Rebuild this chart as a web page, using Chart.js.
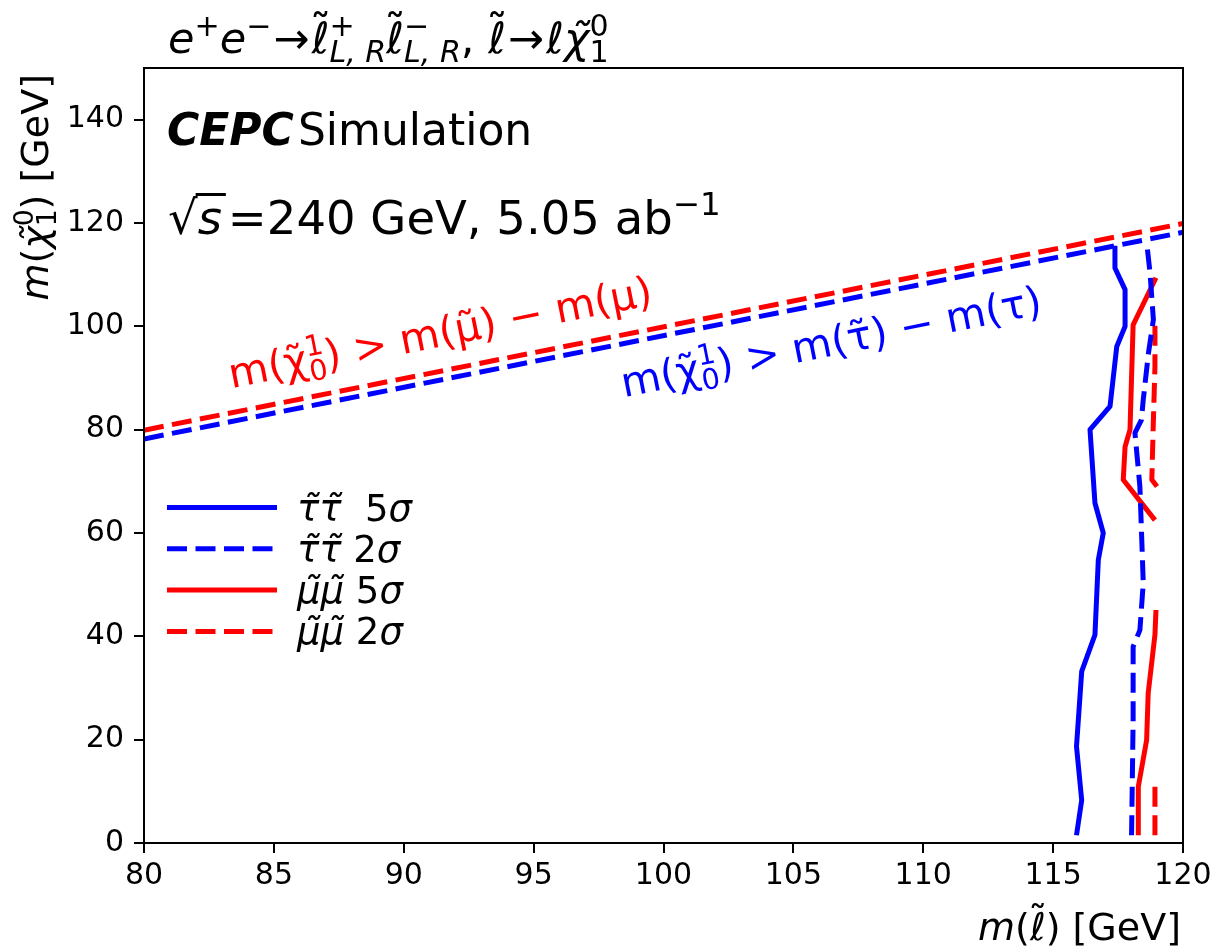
<!DOCTYPE html>
<html>
<head>
<meta charset="utf-8">
<script src="https://cdn.jsdelivr.net/npm/chart.js@4"></script>
<style>
  body { margin: 0; background: #fff; }
  canvas { display: block; }
</style>
</head>
<body>
<canvas id="chart" width="1217" height="950"></canvas>
<script>
// kinematic limit lines
const limitX = [80, 120];
const tauLimitY = [78.2, 118.2];
const muLimitY = [79.9, 119.9];

// stau 5 sigma contour
const tau5X = [115.9, 116.1, 115.9, 116.1, 116.61, 116.74, 116.93, 116.61, 116.42, 117.19, 117.45, 117.77, 117.77, 117.38, 117.38];
const tau5Y = [1.5, 8.3, 18.7, 33.2, 40.3, 54.8, 60, 65.8, 80, 84.5, 96.1, 100, 107.1, 111.3, 115.6];

// stau 2 sigma contour
const tau2X = [118.02, 118.08, 118.08, 118.34, 118.47, 118.4, 118.34, 118.15, 118.4, 118.47, 118.67, 118.86, 118.73, 118.6];
const tau2Y = [1.5, 23.8, 38, 41.2, 50.3, 60.6, 69, 79.4, 81.9, 85.8, 94.8, 101.3, 110.4, 116.3];

// smuon 5 sigma contour (two pieces)
const mu5aX = [118.28, 118.28, 118.6, 118.66, 118.92, 118.96];
const mu5aY = [1.5, 10.9, 19.9, 29, 40.3, 45.1];
const mu5bX = [118.92, 117.7, 117.77, 117.96, 118.08, 118.96];
const mu5bY = [62.5, 70.3, 76.7, 80, 100.3, 109.4];

// smuon 2 sigma contour (two pieces)
const mu2aX = [118.92, 118.92];
const mu2aY = [1.5, 10.9];
const mu2bX = [119.0, 118.8, 118.85, 118.92, 118.92];
const mu2bY = [69.0, 70.3, 80, 92.2, 100.6];

const xTicks = [80, 85, 90, 95, 100, 105, 110, 115, 120];
const yTicks = [0, 20, 40, 60, 80, 100, 120, 140];

const BLUE = "#0000ff";
const RED = "#ff0000";
const FONT = '"DejaVu Sans", sans-serif';
const DASH = [20, 8.5];
const LW = 5;

function pts(xs, ys) {
  return xs.map((x, i) => ({ x: x, y: ys[i] }));
}

function line(xs, ys, color, dashed) {
  return {
    data: pts(xs, ys),
    showLine: true,
    borderColor: color,
    borderWidth: LW,
    borderDash: dashed ? DASH : [],
    borderCapStyle: "butt",
    borderJoinStyle: "round",
    pointRadius: 0,
    fill: false
  };
}

function fnt(size, it, bold) {
  return (it ? "italic " : "") + (bold ? "bold " : "") + size + "px " + FONT;
}

// draw text runs with tilde accents, super- and subscripts
function richWidth(ctx, runs, size) {
  let w = 0;
  runs.forEach(r => {
    ctx.font = fnt(size, r.i, r.b);
    w += r.t ? ctx.measureText(r.t).width : 0;
    ctx.font = fnt(size * 0.7, r.si);
    let sw = 0;
    if (r.sup) sw = Math.max(sw, ctx.measureText(r.sup).width);
    if (r.sub) sw = Math.max(sw, ctx.measureText(r.sub).width);
    w += sw + (r.sp || 0) * size;
  });
  return w;
}

function drawRich(ctx, runs, x, y, size, color) {
  let cx = x;
  ctx.fillStyle = color;
  ctx.textBaseline = "alphabetic";
  runs.forEach(r => {
    ctx.textAlign = "left";
    ctx.font = fnt(size, r.i, r.b);
    const w = r.t ? ctx.measureText(r.t).width : 0;
    if (r.t) ctx.fillText(r.t, cx, y);
    if (r.tl !== undefined) {
      ctx.textAlign = "center";
      ctx.fillText("˜", cx + w / 2 + (r.i ? size * 0.06 : 0), y - r.tl * size);
      ctx.textAlign = "left";
    }
    cx += w;
    ctx.font = fnt(size * 0.7, r.si);
    let sw = 0;
    if (r.sup) {
      ctx.fillText(r.sup, cx, y - size * 0.4);
      sw = ctx.measureText(r.sup).width;
    }
    if (r.sub) {
      ctx.fillText(r.sub, cx, y + size * 0.22);
      sw = Math.max(sw, ctx.measureText(r.sub).width);
    }
    cx += sw + (r.sp || 0) * size;
  });
  return cx - x;
}

const titleRuns = [
  { t: "e", i: 1, sup: "+" }, { t: "e", i: 1, sup: "−", sp: 0.05 }, { t: "→", sp: 0.05 },
  { t: "ℓ", tl: 0.2, sup: "+", sub: "L, R", si: 1 },
  { t: "ℓ", tl: 0.2, sup: "−", sub: "L, R", si: 1 },
  { t: ", " }, { t: "ℓ", tl: 0.2, sp: 0.05 }, { t: "→", sp: 0.05 }, { t: "ℓ" },
  { t: "χ", i: 1, tl: 0, sup: "0", sub: "1" }
];
const yLabelRuns = [{ t: "m", i: 1 }, { t: "(" }, { t: "χ", i: 1, tl: 0, sup: "0", sub: "1" }, { t: ") [GeV]" }];
const xLabelRuns = [{ t: "m", i: 1 }, { t: "(" }, { t: "ℓ", tl: 0.2 }, { t: ") [GeV]" }];
const muNoteRuns = [{ t: "m(" }, { t: "χ", tl: 0, sup: "1", sub: "0" }, { t: ") > m(" }, { t: "μ", tl: 0 }, { t: ") − m(μ)" }];
const tauNoteRuns = [{ t: "m(" }, { t: "χ", tl: 0, sup: "1", sub: "0" }, { t: ") > m(" }, { t: "τ", tl: 0 }, { t: ") − m(τ)" }];

const legendItems = [
  { color: BLUE, dashed: false, runs: [{ t: "τ", i: 1, tl: 0 }, { t: "τ", i: 1, tl: 0 }, { t: "  5" }, { t: "σ", i: 1 }] },
  { color: BLUE, dashed: true, runs: [{ t: "τ", i: 1, tl: 0 }, { t: "τ", i: 1, tl: 0 }, { t: " 2" }, { t: "σ", i: 1 }] },
  { color: RED, dashed: false, runs: [{ t: "μ", i: 1, tl: 0 }, { t: "μ", i: 1, tl: 0 }, { t: " 5" }, { t: "σ", i: 1 }] },
  { color: RED, dashed: true, runs: [{ t: "μ", i: 1, tl: 0 }, { t: "μ", i: 1, tl: 0 }, { t: " 2" }, { t: "σ", i: 1 }] }
];

const decor = {
  id: "decor",
  beforeDraw(chart) {
    const ctx = chart.ctx;
    ctx.save();
    ctx.fillStyle = "#fff";
    ctx.fillRect(0, 0, chart.width, chart.height);
    ctx.restore();
  },
  afterDatasetsDraw(chart) {
    const ctx = chart.ctx;
    const a = chart.chartArea;
    const xs = chart.scales.x, ys = chart.scales.y;
    ctx.save();

    // rotated notes along the limit lines
    const ang = Math.atan2(ys.getPixelForValue(muLimitY[1]) - ys.getPixelForValue(muLimitY[0]),
      xs.getPixelForValue(limitX[1]) - xs.getPixelForValue(limitX[0]));
    [[muNoteRuns, 91.4, 98.8, RED], [tauNoteRuns, 106.45, 97.0, BLUE]].forEach(n => {
      ctx.save();
      ctx.translate(xs.getPixelForValue(n[1]), ys.getPixelForValue(n[2]));
      ctx.rotate(ang);
      const w = richWidth(ctx, n[0], 41);
      drawRich(ctx, n[0], -w / 2, 14, 41, n[3]);
      ctx.restore();
    });

    // legend
    legendItems.forEach((it, k) => {
      const y = 507.5 + k * 41.3;
      ctx.beginPath();
      ctx.strokeStyle = it.color;
      ctx.lineWidth = LW;
      ctx.lineCap = "butt";
      ctx.setLineDash(it.dashed ? DASH : []);
      ctx.moveTo(167, y);
      ctx.lineTo(277, y);
      ctx.stroke();
      ctx.setLineDash([]);
      drawRich(ctx, it.runs, 297, y + 13, 37, "#000");
    });

    // CEPC labels
    ctx.fillStyle = "#000";
    ctx.textAlign = "left";
    ctx.font = fnt(44, true, true);
    ctx.fillText("CEPC", 167, 145);
    const cw = ctx.measureText("CEPC").width;
    ctx.font = fnt(44);
    ctx.fillText("Simulation", 167 + cw + 4, 145);

    let x0 = 168;
    ctx.font = fnt(46.5);
    ctx.fillText("√", x0, 234);
    x0 += ctx.measureText("√").width;
    ctx.font = fnt(46.5, true);
    const sw = ctx.measureText("s").width;
    ctx.fillText("s", x0, 234);
    ctx.fillRect(x0 - 2, 234 - 41, sw + 6, 3);
    x0 += sw + 6;
    drawRich(ctx, [{ t: "=240 GeV, 5.05 ab", sup: "−1" }], x0, 234, 46.5, "#000");

    // frame
    ctx.strokeStyle = "#000";
    ctx.lineWidth = 2;
    ctx.strokeRect(a.left, a.top, a.right - a.left, a.bottom - a.top);

    // title and axis labels
    drawRich(ctx, titleRuns, 168, 53, 43, "#000");
    const xw = richWidth(ctx, xLabelRuns, 38);
    drawRich(ctx, xLabelRuns, 1181 - xw, 940, 38, "#000");
    ctx.save();
    ctx.translate(48, 74);
    ctx.rotate(-Math.PI / 2);
    const yw = richWidth(ctx, yLabelRuns, 38);
    drawRich(ctx, yLabelRuns, -yw, 0, 38, "#000");
    ctx.restore();

    ctx.restore();
  }
};

new Chart(document.getElementById("chart").getContext("2d"), {
  type: "scatter",
  data: {
    datasets: [
      line(limitX, muLimitY, RED, true),
      line(limitX, tauLimitY, BLUE, true),
      line(tau5X, tau5Y, BLUE, false),
      line(tau2X, tau2Y, BLUE, true),
      line(mu5aX, mu5aY, RED, false),
      line(mu5bX, mu5bY, RED, false),
      line(mu2aX, mu2aY, RED, true),
      line(mu2bX, mu2bY, RED, true)
    ]
  },
  options: {
    responsive: false,
    animation: false,
    layout: { padding: { left: 0, top: 68, right: 34, bottom: 0 } },
    plugins: { legend: { display: false }, tooltip: { enabled: false } },
    scales: {
      x: {
        type: "linear",
        min: 80,
        max: 120,
        afterFit(s) { s.height = 107; },
        afterBuildTicks(s) { s.ticks = xTicks.map(v => ({ value: v })); },
        border: { display: false },
        grid: { drawOnChartArea: false, drawTicks: true, tickLength: 10, lineWidth: 2, color: "#000" },
        ticks: { color: "#000", font: { family: FONT, size: 30 }, padding: 5, maxRotation: 0 }
      },
      y: {
        type: "linear",
        min: 0,
        max: 150,
        afterFit(s) { s.width = 144; },
        afterBuildTicks(s) { s.ticks = yTicks.map(v => ({ value: v })); },
        border: { display: false },
        grid: { drawOnChartArea: false, drawTicks: true, tickLength: 10, lineWidth: 2, color: "#000" },
        ticks: { color: "#000", font: { family: FONT, size: 30 }, padding: 10 }
      }
    }
  },
  plugins: [decor]
});
</script>
</body>
</html>
